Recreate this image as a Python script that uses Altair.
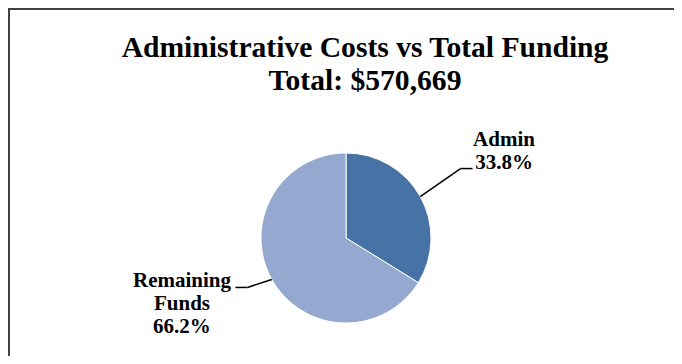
import altair as alt
import pandas as pd

# ---- data ----
categories = ["Admin", "Remaining Funds"]
shares = [33.8, 66.2]            # percent of total funding
total_funding = "$570,669"
colors = ["#4672a6", "#95a9d0"]

title_lines = ["Administrative Costs vs Total Funding", f"Total: {total_funding}"]

# ---- layout constants ----
W, H = 666, 348          # whole drawing area
CX, CY = 338, 230        # pie centre inside the drawing area (pixels from top-left)
R = 85                   # pie radius
RE = 122                 # elbow radius of leader lines
LIFT = 10                # labels sit slightly higher than radial
SHIFT = 8                # labels sit slightly right of radial
TAIL = 12                # horizontal tail of leader lines
GAP = 4
CHAR = 5.5               # approx half-width per character of label font
LH = 23                  # label line height
FONT = "Liberation Serif"

pct_text = [f"{s:.1f}%" for s in shares]
df = pd.DataFrame({
    "category": categories,
    "share": shares,
    "order": list(range(len(categories))),
    "label": [c.replace(" ", "\n") + "\n" + p for c, p in zip(categories, pct_text)],
    "lines": [len(c.split(" ")) + 1 for c in categories],
    "maxlen": [max([len(w) for w in c.split(" ")] + [len(p)]) for c, p in zip(categories, pct_text)],
})

# pixel-unit scales whose origin is the pie centre
xs = alt.Scale(domain=[-CX, W - CX], nice=False, zero=False)
ys = alt.Scale(domain=[-(H - CY), CY], nice=False, zero=False)

base = (
    alt.Chart(df)
    .transform_joinaggregate(total="sum(share)")
    .transform_window(cum="sum(share)", sort=[alt.SortField("order")], frame=[None, 0])
    .transform_calculate(mid="2*PI*(datum.cum - datum.share/2)/datum.total")
    .transform_calculate(
        ex=f"{R}*sin(datum.mid)", ey=f"{R}*cos(datum.mid)",
        bx=f"{RE}*sin(datum.mid) + {SHIFT}", by=f"{RE}*cos(datum.mid) + {LIFT}",
        side="sin(datum.mid) >= 0 ? 1 : -1",
        upper="cos(datum.mid) >= 0 ? 1 : 0",
    )
    .transform_calculate(
        tx=f"datum.bx + datum.side*{TAIL}",
    )
    .transform_calculate(
        lx=f"datum.tx + datum.side*({GAP} + datum.maxlen*{CHAR})",
        # upper labels: last line sits on the leader; lower labels: first line does
        ly=f"datum.upper ? datum.by + (datum.lines-1)*{LH} : datum.by",
    )
)

pie = alt.Chart(df).mark_arc(outerRadius=R, stroke="white", strokeWidth=1).encode(
    x=alt.X(datum=0, scale=xs, axis=None),
    y=alt.Y(datum=0, scale=ys, axis=None),
    theta=alt.Theta("share:Q", stack=True),
    order=alt.Order("order:Q"),
    color=alt.Color("category:N", scale=alt.Scale(domain=categories, range=colors), legend=None),
)

lead1 = base.mark_rule(color="black", strokeWidth=1.5).encode(
    x=alt.X("ex:Q", scale=xs, axis=None), y=alt.Y("ey:Q", scale=ys, axis=None),
    x2="bx:Q", y2="by:Q",
)
lead2 = base.mark_rule(color="black", strokeWidth=1.5).encode(
    x=alt.X("bx:Q", scale=xs, axis=None), y=alt.Y("by:Q", scale=ys, axis=None),
    x2="tx:Q",
)

labels = base.mark_text(
    font=FONT, fontSize=21, fontWeight="bold", lineHeight=LH, lineBreak="\n",
    align="center", baseline="alphabetic", color="black",
).encode(
    x=alt.X("lx:Q", scale=xs, axis=None), y=alt.Y("ly:Q", scale=ys, axis=None),
    text="label:N",
)

frame_data = alt.Data(values=[{"k": 0}])
left_border = alt.Chart(frame_data).mark_rule(color="#404040", strokeWidth=2).encode(
    x=alt.value(1), y=alt.value(0), y2=alt.value(H),
)
top_border = alt.Chart(frame_data).mark_rule(color="#404040", strokeWidth=2).encode(
    x=alt.value(0), x2=alt.value(W), y=alt.value(1),
)

chart = (
    alt.layer(pie, lead1, lead2, labels, left_border, top_border)
    .properties(
        width=W, height=H,
        autosize=alt.AutoSizeParams(type="none"),
        padding=0,
        title=alt.TitleParams(
            text=title_lines, font=FONT, fontSize=29.6, fontWeight="bold", color="black",
            anchor="middle", lineHeight=33, offset=-90, dx=24, frame="group",
        ),
    )
    .configure_view(stroke=None)
)

chart.save("out.html", embed_options={"renderer": "svg", "actions": False})
